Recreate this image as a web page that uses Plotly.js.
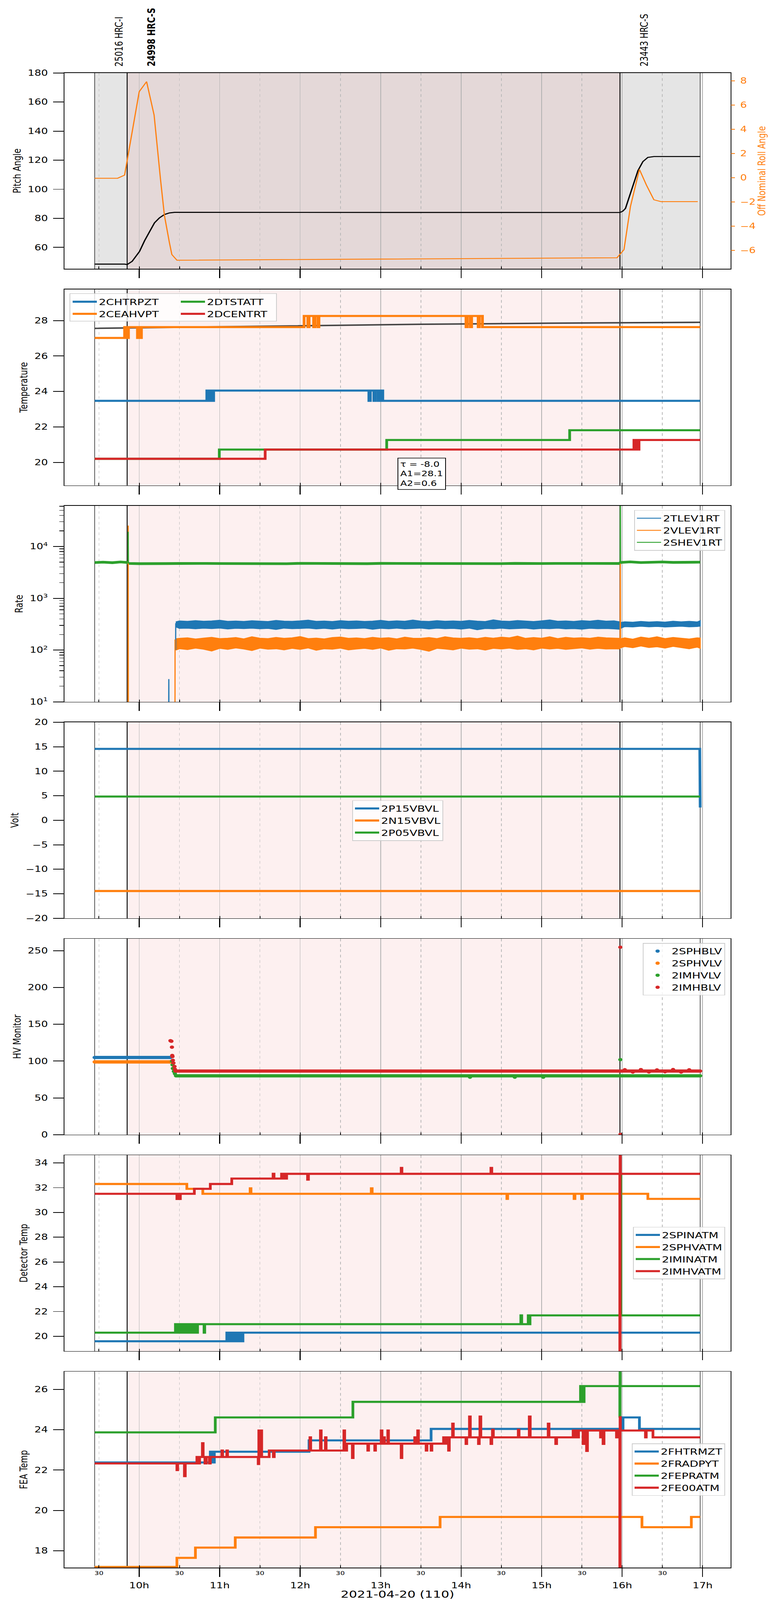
<!DOCTYPE html>
<html><head><meta charset="utf-8">
<script src="https://cdn.plot.ly/plotly-3.0.1.min.js"></script>
<style>html,body{margin:0;padding:0;background:#fff;overflow:hidden} #chart{transform-origin:0 0}</style>
</head><body><div id="chart" style="width:2000px;height:5400px"></div>
<script>
const DAY = '2021-04-20 ';

// ---------------- observations ----------------
const obsLabel = ['25016 HRC-I', '24998 HRC-S', '23443 HRC-S'];
const obsStart = ['09:26:48', '09:51:00', '15:58:24'];
const obsStop  = ['09:51:00', '15:58:24', '16:58:12'];
const obsMain  = [false, true, false];

// ---------------- panel 1 : pitch / roll ----------------
const pitch = [['09:26:48',48.5],['09:49:06',48.5],['09:51:00',48.2],['09:54:42',50.4],['10:00:14',57.2],['10:04:00',64.6],
  ['10:07:42',70.8],['10:11:24',76.9],['10:15:06',80.3],['10:18:48',82.6],['10:22:30',83.7],['10:26:18',84.1],
  ['15:58:24',84.0],['16:00:36',85.0],['16:02:30',86.8],['16:05:06',94.2],['16:08:06',102.9],['16:11:48',112.8],
  ['16:15:30',119.0],['16:19:12',121.9],['16:23:42',122.5],['16:58:12',122.5]];
const roll = [['09:26:48',-0.05],['09:43:54',-0.05],['09:49:06',0.21],['10:00:00',7.1],['10:05:30',7.93],['10:11:06',5.17],
  ['10:15:54',-0.17],['10:18:48',-3.13],['10:22:30',-5.36],['10:24:20',-6.35],['10:28:06',-6.82],['15:56:12',-6.62],
  ['16:01:24',-5.95],['16:06:12',-2.39],['16:12:54',0.68],['16:18:06',-0.61],['16:23:42',-1.83],['16:28:54',-1.98],['16:56:24',-1.98]];

// ---------------- panel 2 : temperature ----------------
const fitCurve = [['09:26:48',27.56],['11:22:00',27.67],['13:30:00',27.79],['15:05:00',27.85],['16:58:12',27.90]];
const fitText = 'τ = -8.0<br>A1=28.1<br>A2=0.6';
const chtrpzt = [['09:26:48',23.47],['10:50:24',24.05],['10:51:40',23.47],['10:53:00',24.05],['10:54:10',23.47],['10:55:30',24.05],
  ['12:51:12',23.47],['12:52:20',24.05],['12:54:54',23.47],['12:55:50',24.05],['12:57:54',23.47],['12:58:50',24.05],
  ['13:00:24',23.47],['13:00:50',24.05],['13:01:36',23.47],['16:58:12',23.47]];
const ceahvpt = [['09:26:48',27.02],['09:49:06',27.63],['09:49:50',27.02],['09:50:40',27.63],['09:51:20',27.02],['09:52:00',27.63],
  ['09:58:40',27.02],['09:59:20',27.63],['10:00:00',27.02],['10:00:50',27.63],['10:01:20',27.02],['10:01:40',27.63],
  ['12:02:54',28.26],['12:05:40',27.63],['12:06:40',28.26],['12:10:00',27.63],['12:11:00',28.26],['12:13:10',27.63],['12:14:00',28.26],
  ['14:03:36',27.63],['14:04:40',28.26],['14:06:50',27.63],['14:07:50',28.26],['14:12:40',27.63],['14:13:40',28.26],['14:15:54',27.63],
  ['16:58:12',27.63]];
const dtstatt = [['09:26:48',20.2],['10:59:42',20.72],['13:04:30',21.26],['15:20:54',21.81],['16:58:12',21.81]];
const dcentrt = [['09:26:48',20.2],['11:33:54',20.72],['16:08:48',21.26],['16:09:30',20.72],['16:10:30',21.26],['16:11:40',20.72],
  ['16:12:36',21.26],['16:58:12',21.26]];

// ---------------- panel 3 : rates ----------------
const bandTime = ['10:27:14','10:30','10:36','10:42','10:48','10:54','11:00','11:06','11:12','11:18',
  '11:24','11:30','11:36','11:42','11:48','11:54','12:00','12:06','12:12','12:18',
  '12:24','12:30','12:36','12:42','12:48','12:54','13:00','13:06','13:12','13:18',
  '13:24','13:30','13:36','13:42','13:48','13:54','14:00','14:06','14:12','14:18',
  '14:24','14:30','14:36','14:42','14:48','14:54','15:00','15:06','15:12','15:18',
  '15:24','15:30','15:36','15:42','15:48','15:54','15:58:00','15:58:40','16:02','16:08',
  '16:14','16:20','16:26','16:32','16:38','16:44','16:50','16:56','16:58:12'];
const tlevUpper = [350,364,358,369,360,365,376,358,363,357, 368,361,356,372,362,358,366,378,359,363,
  356,370,360,365,357,362,374,358,366,360, 379,362,357,369,360,365,358,373,362,356,
  382,363,359,371,362,356,367,380,360,364, 357,370,362,376,361,366,352,340,350,344,
  356,348,354,346,360,350,358,349,368];
const tlevLower = [280,262,265,258,264,260,266,255,263,260, 265,258,262,250,265,259,261,266,257,263,
  254,265,259,261,266,252,263,258,265,257, 261,266,255,264,259,262,254,265,247,261,
  258,264,257,261,265,254,262,259,265,257, 260,253,263,259,261,257,252,262,284,280,
  288,281,286,279,284,289,281,285,290];
const vlevUpper = [165,168,172,163,170,176,166,169,174,164, 180,169,166,175,168,172,182,166,170,164,
  174,178,168,171,166,176,169,173,164,177, 169,168,174,166,180,171,168,173,166,176,
  169,177,172,186,168,174,169,180,166,176, 170,173,168,177,172,169,168,165,172,162,
  178,169,180,166,175,169,163,172,170];
const vlevLower = [100,106,102,109,104,96,108,103,110,105, 98,109,104,106,101,108,103,110,99,106,
  104,109,101,105,108,103,110,99,106,105, 109,103,95,108,105,101,109,104,106,100,
  108,105,109,103,106,101,109,105,108,103, 106,110,104,108,105,106,105,110,117,111,
  120,112,116,109,118,112,106,114,108];
const shevBand = [['09:26:48',4900],['09:33',4980],['09:40',4870],['09:46',5020],['09:50:50',4920],['09:52:00',4700],
  ['10:00',4660],['10:10',4720],['10:20',4680],['10:30',4700],['10:40',4650],['10:50',4710],['11:00',4690],['11:10',4660],
  ['11:20',4720],['11:30',4680],['11:40',4700],['11:50',4650],['12:00',4730],['12:10',4690],['12:20',4670],['12:30',4710],
  ['12:40',4690],['12:50',4660],['13:00',4720],['13:10',4700],['13:20',4680],['13:30',4710],['13:40',4660],['13:50',4700],
  ['14:00',4730],['14:10',4680],['14:20',4700],['14:30',4670],['14:40',4720],['14:50',4650],['15:00',4690],['15:10',4710],
  ['15:20',4680],['15:30',4700],['15:40',4670],['15:50',4720],['15:58:00',4700],['15:59:00',4920],['16:06',5050],['16:14',4900],
  ['16:22',4980],['16:30',5020],['16:38',4930],['16:46',5000],['16:54',4950],['16:58:12',4980]];
const tlevSpikes = [['10:21:54',1],['10:22:04',27.5],['10:22:14',1],[null,null],['10:27:08',100],['10:27:14',330],[null,null],
  ['15:58:30',320],['15:58:38',250],['15:58:46',320]];
const vlevSpikes = [['09:51:40',1],['09:51:48',25400],['09:51:56',1],[null,null],['10:26:38',1],['10:26:44',160],[null,null],
  ['15:58:32',130],['15:58:40',4700],['15:58:48',130]];
const shevSpikes = [['09:51:40',4900],['09:51:48',19300],['09:51:56',4700],[null,null],['15:58:32',4700],['15:58:40',90000],['15:58:48',4900]];

// ---------------- panel 4 : voltages ----------------
const p15vbvl = [['09:26:48',14.56],['16:57:54',14.56],['16:58:12',2.6]];
const n15vbvl = [['09:26:48',-14.44],['16:58:12',-14.44]];
const p05vbvl = [['09:26:48',4.84],['16:58:12',4.84]];

// ---------------- panel 5 : HV monitor ----------------
const sphblv = [['09:26:48',104.9],['10:23:14',104.9]];
const sphvlv = [['09:26:48',98.9],['10:23:14',98.9]];
const imhvlvRun = [['10:27:24',80],['16:58:12',80]];
const imhvlvDots = [['10:24:24',100],['10:24:48',95],['10:25:06',90],['10:25:50',86],['10:26:36',83],['10:27:24',80],
  ['14:06:36',78.2],['14:40:00',78.2],['15:01:12',78.2],['15:58:40',102],['16:58:12',80]];
const imhblvRun = [['10:27:00',86.5],['16:58:12',86.5]];
const imhblvDots = [['10:23:18',127.7],['10:23:36',127.2],['10:24:00',127],['10:24:24',118.9],['10:24:36',107.7],['10:24:48',106.2],
  ['10:25:06',101.1],['10:25:30',97.4],['10:26:18',92.7],['10:26:36',89],['10:27:00',86.5],['15:58:40',254.7],['15:58:46',0.4],
  ['16:02',88.3],['16:08',85],['16:14',88.5],['16:20',85.2],['16:26',88],['16:32',85.5],['16:38',88.6],['16:44',85],['16:50',88.2],['16:58:12',86.5]];

// ---------------- panel 6 : detector temperatures ----------------
const spinatm = [['09:26:48',19.6],['11:05:18',20.29],['11:06:00',19.6],['11:06:50',20.29],['11:07:30',19.6],['11:08:20',20.29],
  ['11:09:00',19.6],['11:09:50',20.29],['11:10:30',19.6],['11:11:20',20.29],['11:12:00',19.6],['11:12:50',20.29],['11:13:30',19.6],
  ['11:14:20',20.29],['11:15:00',19.6],['11:15:50',20.29],['11:16:30',19.6],['11:17:20',20.29],['16:58:12',20.29]];
const sphvatm = [['09:26:48',32.3],['10:35:30',31.91],['10:47:24',31.51],['11:22:42',31.95],['11:23:20',31.51],['12:53:00',31.95],
  ['12:53:40',31.51],['14:34:06',31.1],['14:34:40',31.51],['15:24:12',31.1],['15:24:50',31.51],['15:29:48',31.1],['15:30:26',31.51],
  ['16:19:12',31.1],['16:58:12',31.1]];
const iminatm = [['09:26:48',20.29],['10:27:00',20.98],['10:27:40',20.29],['10:28:30',20.98],['10:29:10',20.29],['10:30:00',20.98],
  ['10:30:40',20.29],['10:31:30',20.98],['10:32:10',20.29],['10:33:00',20.98],['10:33:40',20.29],['10:34:30',20.98],['10:35:10',20.29],
  ['10:36:00',20.98],['10:36:40',20.29],['10:37:30',20.98],['10:38:10',20.29],['10:39:00',20.98],['10:39:40',20.29],['10:40:30',20.98],
  ['10:41:10',20.29],['10:42:00',20.98],['10:42:40',20.29],['10:43:30',20.98],['10:48:20',20.29],['10:48:50',20.98],
  ['14:44:30',21.69],['14:45:10',20.98],['14:50:00',21.69],['14:50:40',20.98],['14:51:20',21.69],['15:58:50',33.0],['15:59:02',21.69],
  ['16:58:12',21.69]];
const imhvatm = [['09:26:48',31.51],['10:28:06',31.09],['10:28:50',31.51],['10:29:40',31.09],['10:30:40',31.51],['10:41:06',31.91],
  ['10:53:00',32.3],['11:09:00',32.74],['11:39:48',33.12],['11:40:30',32.74],['11:46:06',33.12],['11:46:40',32.74],['11:48:00',33.12],
  ['11:48:40',32.74],['11:49:54',33.12],['12:05:30',32.65],['12:06:10',33.12],['13:15:18',33.6],['13:15:50',33.12],['14:22:12',33.6],
  ['14:22:50',33.12],['15:58:18',10],['15:58:30',40],['15:58:42',33.12],['16:58:12',33.12]];

// ---------------- panel 7 : FEA temperatures ----------------
const fhtrmzt = [['09:26:48',22.38],['10:53:00',22.91],['10:54:00',22.38],['10:55:00',22.91],['10:55:40',22.38],['10:56:00',22.91],
  ['12:06:36',23.47],['13:37:36',24.04],['16:00:42',24.61],['16:12:54',24.04],['16:58:12',24.04]];
const fradpyt = [['09:26:48',17.2],['10:28:06',17.65],['10:41:54',18.16],['11:11:36',18.66],['12:11:24',19.17],['13:44:18',19.68],
  ['16:14:48',19.17],['16:51:36',19.68],['16:58:12',19.68]];
const fepratm = [['09:26:48',23.87],['10:56:42',24.61],['12:39:18',25.38],['15:29:00',26.16],['15:29:40',25.38],['15:30:20',26.16],
  ['15:31:00',25.38],['15:31:40',26.16],['15:58:18',24.65],['15:58:26',30],['15:58:34',26.16],['16:58:12',26.16]];
const fe00atm = [['09:26:48',22.33],['10:28:06',22.0],['10:28:40',22.33],['10:33:42',21.7],['10:34:20',22.33],['10:43:00',22.65],
  ['10:43:40',22.33],['10:45:00',22.65],['10:47:06',23.33],['10:47:40',22.65],['10:49:00',22.33],['10:50:00',22.65],['10:52:18',22.33],
  ['10:53:00',22.65],['11:01:36',22.97],['11:02:10',22.65],['11:05:18',22.97],['11:05:50',22.65],['11:28:42',22.3],['11:29:10',23.96],
  ['11:29:48',22.65],['11:30:40',23.96],['11:31:18',22.65],['11:36:54',22.97],['11:40:00',22.65],['11:40:40',22.97],['12:07:18',23.62],
  ['12:07:50',22.97],['12:15:06',23.96],['12:15:40',22.97],['12:18:48',23.62],['12:19:20',22.97],['12:32:36',23.96],['12:33:10',23.31],
  ['12:34:00',22.97],['12:34:40',23.31],['12:38:54',22.6],['12:39:30',23.31],['12:50:24',22.97],['12:51:00',23.31],['12:55:36',22.97],
  ['12:56:10',23.31],['13:00:24',23.96],['13:01:00',23.31],['13:02:18',23.62],['13:02:50',23.31],['13:05:18',23.96],['13:05:50',23.31],
  ['13:15:18',22.6],['13:15:50',23.31],['13:25:24',23.62],['13:26:00',23.31],['13:27:36',23.96],['13:28:10',23.31],['13:33:54',22.97],
  ['13:34:30',23.31],['13:37:36',22.97],['13:38:10',23.31],['13:46:54',23.62],['13:48:00',23.31],['13:49:00',23.62],['13:50:36',22.97],
  ['13:51:10',23.62],['13:53:36',24.3],['13:54:10',23.62],['14:03:36',23.3],['14:04:10',23.62],['14:06:12',24.65],['14:06:50',23.62],
  ['14:12:54',23.3],['14:13:30',23.62],['14:14:00',24.65],['14:14:40',23.62],['14:22:12',23.3],['14:22:50',23.62],['14:23:20',24.0],
  ['14:24:00',23.62],['14:42:36',24.0],['14:43:10',23.62],['14:50:48',24.65],['14:51:30',23.62],['15:04:54',24.3],['15:05:30',23.62],
  ['15:10:30',23.3],['15:11:10',23.62],['15:23:30',23.96],['15:24:30',23.62],['15:25:30',23.96],['15:26:30',23.62],['15:27:30',23.96],
  ['15:30:54',23.3],['15:31:30',23.96],['15:33:30',22.95],['15:34:10',23.96],['15:43:54',23.62],['15:44:30',23.96],['15:45:48',23.3],
  ['15:46:30',23.96],['15:55:48',23.62],['15:56:30',23.96],['15:58:18',10],['15:58:30',24.62],['15:58:42',23.96],['16:17:24',23.62],
  ['16:18:00',23.96],['16:23:00',23.62],['16:58:12',23.62]];

// ---------------- styling / geometry ----------------
const C0 = '#1f77b4', C1 = '#ff7f0e', C2 = '#2ca02c', C3 = '#d62728';
const FONT = 'DejaVu Sans';
const W = 2000, H = 5400, ML = 165, MR = 129;
const panelTop = [246.1, 976.6, 1707.1, 2437.6, 3168.1, 3898.6, 4629.1];
const panelH = 661.5;
const xRange = [DAY + '09:04:15', DAY + '17:20:54'];

// the browser window may be shorter than the 5400 px figure: fit the whole figure into it
const viewH = window.innerHeight || H;
const fitY = Math.min(1, viewH / H);
if (fitY < 1) document.getElementById('chart').style.transform = 'scale(1,' + fitY + ')';

const px = x => (x - ML) / (W - ML - MR);
const py = y => 1 - y / H;
const dom = k => [py(panelTop[k - 1] + panelH), py(panelTop[k - 1])];
const xa = k => (k === 1 ? 'x' : 'x' + k);
const ya = k => (k === 1 ? 'y' : 'y' + k);
const split = pairs => ({ x: pairs.map(p => (p[0] === null ? null : DAY + p[0])), y: pairs.map(p => p[1]) });

function lineTrace(pairs, color, width, k, o = {}) {
  const s = split(pairs);
  const t = {
    type: 'scatter', mode: 'lines', x: s.x, y: s.y, name: o.name || '',
    line: { color: color, width: width, shape: o.shape || 'linear' },
    xaxis: xa(k), yaxis: o.yaxis || ya(k),
    showlegend: !!o.legend, hoverinfo: 'skip', connectgaps: false
  };
  if (o.legend) t.legend = o.legend;
  return t;
}
function dotTrace(pairs, color, size, k, o = {}) {
  const s = split(pairs);
  const t = {
    type: 'scatter', mode: 'markers', x: s.x, y: s.y, name: o.name || '',
    marker: { color: color, size: size, line: { width: 0 } },
    xaxis: xa(k), yaxis: ya(k), showlegend: !!o.legend, hoverinfo: 'skip'
  };
  if (o.legend) t.legend = o.legend;
  return t;
}
function bandTrace(times, upper, lower, color, k) {
  const t = times.map(s => DAY + s);
  return {
    type: 'scatter', mode: 'lines', x: t.concat(t.slice().reverse()), y: upper.concat(lower.slice().reverse()),
    fill: 'toself', fillcolor: color, line: { color: color, width: 3 },
    xaxis: xa(k), yaxis: ya(k), showlegend: false, hoverinfo: 'skip'
  };
}

const data = [
  lineTrace(pitch, 'black', 3.5, 1),
  lineTrace(roll, C1, 3, 1, { yaxis: 'y8' }),
  lineTrace(fitCurve, '#444444', 5, 2),
  lineTrace(chtrpzt, C0, 7, 2, { shape: 'hv', name: '2CHTRPZT', legend: 'legend' }),
  lineTrace(ceahvpt, C1, 7, 2, { shape: 'hv', name: '2CEAHVPT', legend: 'legend' }),
  lineTrace(dtstatt, C2, 7, 2, { shape: 'hv', name: '2DTSTATT', legend: 'legend2' }),
  lineTrace(dcentrt, C3, 7, 2, { shape: 'hv', name: '2DCENTRT', legend: 'legend2' }),
  bandTrace(bandTime, tlevUpper, tlevLower, C0, 3),
  bandTrace(bandTime, vlevUpper, vlevLower, C1, 3),
  lineTrace(shevBand, C2, 9, 3),
  lineTrace(tlevSpikes, C0, 3, 3, { name: '2TLEV1RT', legend: 'legend3' }),
  lineTrace(vlevSpikes, C1, 3, 3, { name: '2VLEV1RT', legend: 'legend3' }),
  lineTrace(shevSpikes, C2, 3, 3, { name: '2SHEV1RT', legend: 'legend3' }),
  lineTrace(p15vbvl, C0, 7, 4, { name: '2P15VBVL', legend: 'legend4' }),
  lineTrace(n15vbvl, C1, 7, 4, { name: '2N15VBVL', legend: 'legend4' }),
  lineTrace(p05vbvl, C2, 7, 4, { name: '2P05VBVL', legend: 'legend4' }),
  lineTrace(sphblv, C0, 11, 5),
  dotTrace(sphblv, C0, 11, 5, { name: '2SPHBLV', legend: 'legend5' }),
  lineTrace(sphvlv, C1, 11, 5),
  dotTrace(sphvlv, C1, 11, 5, { name: '2SPHVLV', legend: 'legend5' }),
  lineTrace(imhvlvRun, C2, 11, 5),
  dotTrace(imhvlvDots, C2, 11, 5, { name: '2IMHVLV', legend: 'legend5' }),
  lineTrace(imhblvRun, C3, 11, 5),
  dotTrace(imhblvDots, C3, 11, 5, { name: '2IMHBLV', legend: 'legend5' }),
  lineTrace(spinatm, C0, 7, 6, { shape: 'hv', name: '2SPINATM', legend: 'legend6' }),
  lineTrace(sphvatm, C1, 7, 6, { shape: 'hv', name: '2SPHVATM', legend: 'legend6' }),
  lineTrace(iminatm, C2, 7, 6, { shape: 'hv', name: '2IMINATM', legend: 'legend6' }),
  lineTrace(imhvatm, C3, 7, 6, { shape: 'hv', name: '2IMHVATM', legend: 'legend6' }),
  lineTrace(fhtrmzt, C0, 7, 7, { shape: 'hv', name: '2FHTRMZT', legend: 'legend7' }),
  lineTrace(fradpyt, C1, 7, 7, { shape: 'hv', name: '2FRADPYT', legend: 'legend7' }),
  lineTrace(fepratm, C2, 7, 7, { shape: 'hv', name: '2FEPRATM', legend: 'legend7' }),
  lineTrace(fe00atm, C3, 7, 7, { shape: 'hv', name: '2FE00ATM', legend: 'legend7' })
];

const layout = {
  width: W, height: H, margin: { l: ML, r: MR, t: 0, b: 0, pad: 0 },
  paper_bgcolor: 'white', plot_bgcolor: 'white',
  font: { family: FONT, size: 27, color: 'black' },
  showlegend: true, hovermode: false
};
function xAxis(k) {
  const a = {
    type: 'date', range: xRange, domain: [0, 1], anchor: ya(k),
    dtick: 3600000, tick0: DAY + '00:00',
    ticks: 'outside', ticklen: 29, tickwidth: 2.5, tickcolor: 'black',
    showgrid: true, gridcolor: '#b0b0b0', gridwidth: 1.5,
    minor: { dtick: 1800000, tick0: DAY + '00:00', ticks: 'inside', ticklen: 8, tickwidth: 2, tickcolor: 'black',
             showgrid: true, gridcolor: '#b8b8b8', gridwidth: 1.5, griddash: 'dash' },
    showline: true, linecolor: 'black', linewidth: 2, mirror: true, zeroline: false,
    showticklabels: false, automargin: false
  };
  if (k === 7) {
    a.showticklabels = true;
    a.tickformat = '%-Hh';
    a.tickfont = { size: 27, color: 'black' };
    a.ticklabelstandoff = 7;
    a.title = { text: '2021-04-20 (110)', font: { size: 33 }, standoff: 6 };
  }
  return a;
}
function yAxis(k, title, extra) {
  return Object.assign({
    domain: dom(k), anchor: xa(k),
    showline: true, linecolor: 'black', linewidth: 2, mirror: true,
    ticks: 'outside', ticklen: 27, tickwidth: 2.5, tickcolor: 'black',
    tickfont: { size: 27, color: 'black' }, ticklabelstandoff: 8,
    showgrid: false, zeroline: false, automargin: false,
    title: { text: title, font: { size: 27 }, standoff: 10 }
  }, extra);
}
for (let k = 1; k <= 7; k++) layout[k === 1 ? 'xaxis' : 'xaxis' + k] = xAxis(k);
layout.yaxis  = yAxis(1, 'Pitch Angle', { range: [45.2, 180], dtick: 20, tick0: 0 });
layout.yaxis2 = yAxis(2, 'Temperature', { range: [18.70, 29.76], dtick: 2, tick0: 0 });
const rateTicks = [10, 100, 1000, 10000];
const rateMinor = [];
[10, 100, 1000, 10000].forEach(d => { for (let m = 2; m <= 9; m++) rateMinor.push(m * d); });
layout.yaxis3 = yAxis(3, 'Rate', {
  type: 'log', range: [1, 4.786], tickmode: 'array', tickvals: rateTicks,
  ticktext: ['10<sup>1</sup>', '10<sup>2</sup>', '10<sup>3</sup>', '10<sup>4</sup>'],
  minor: { tickmode: 'array', tickvals: rateMinor, ticks: 'outside', ticklen: 11, tickwidth: 1.8, tickcolor: 'black', showgrid: false }
});
layout.yaxis4 = yAxis(4, 'Volt', { range: [-20, 20], dtick: 5, tick0: 0 });
layout.yaxis5 = yAxis(5, 'HV Monitor', { range: [0, 266.3], dtick: 50, tick0: 0 });
layout.yaxis6 = yAxis(6, 'Detector Temp', { range: [18.80, 34.63], dtick: 2, tick0: 0 });
layout.yaxis7 = yAxis(7, 'FEA Temp', { range: [17.17, 26.88], dtick: 2, tick0: 0 });
layout.yaxis8 = {
  overlaying: 'y', side: 'right', anchor: 'x', range: [-7.54, 8.65], dtick: 2, tick0: 0,
  ticks: 'outside', ticklen: 10, tickwidth: 2.5, tickcolor: C1, tickfont: { size: 27, color: C1 },
  ticklabelstandoff: 8, showline: false, showgrid: false, zeroline: false, automargin: false,
  title: { text: 'Off Nominal Roll Angle', font: { size: 27, color: C1 }, standoff: 1 }
};

const legBase = { font: { size: 29, family: FONT, color: 'black' }, bgcolor: 'rgba(255,255,255,0.8)', bordercolor: '#cccccc',
  borderwidth: 2, itemwidth: 62, orientation: 'v', traceorder: 'normal' };
layout.legend  = Object.assign({}, legBase, { x: px(181), y: py(993), xanchor: 'left', yanchor: 'top', bgcolor: 'rgba(0,0,0,0)', borderwidth: 0 });
layout.legend2 = Object.assign({}, legBase, { x: px(458), y: py(993), xanchor: 'left', yanchor: 'top', bgcolor: 'rgba(0,0,0,0)', borderwidth: 0 });
layout.legend3 = Object.assign({}, legBase, { x: px(1857), y: py(1721.7), xanchor: 'right', yanchor: 'top' });
layout.legend4 = Object.assign({}, legBase, { x: px(1018.5), y: py(2769.7), xanchor: 'center', yanchor: 'middle' });
layout.legend5 = Object.assign({}, legBase, { x: px(1857), y: py(3182.6), xanchor: 'right', yanchor: 'top' });
layout.legend6 = Object.assign({}, legBase, { x: px(1857), y: py(4229.1), xanchor: 'right', yanchor: 'middle' });
layout.legend7 = Object.assign({}, legBase, { x: px(1857), y: py(4960), xanchor: 'right', yanchor: 'middle' });

const shapes = [];
for (let k = 1; k <= 7; k++) {
  const yref = ya(k) + ' domain';
  obsStart.forEach((s, i) => {
    const fill = k === 1 ? (obsMain[i] ? '#e4d8d8' : '#e5e5e5') : (obsMain[i] ? '#fdf0f0' : null);
    if (fill) shapes.push({ type: 'rect', xref: xa(k), yref: yref, x0: DAY + s, x1: DAY + obsStop[i], y0: 0, y1: 1,
      fillcolor: fill, line: { width: 0 }, layer: 'below' });
  });
  obsStart.forEach((s, i) => {
    [s, obsStop[i]].forEach(t => shapes.push({ type: 'line', xref: xa(k), yref: yref, x0: DAY + t, x1: DAY + t, y0: 0, y1: 1,
      line: { color: 'black', width: obsMain[i] ? 2.2 : 1.3 }, layer: 'below' }));
  });
}
shapes.push({ type: 'rect', xref: 'paper', yref: 'paper', x0: px(179), x1: px(708), y0: py(1084), y1: py(990.7),
  fillcolor: 'rgba(255,255,255,0.8)', line: { color: '#cccccc', width: 2 }, layer: 'above' });
layout.shapes = shapes;

const annotations = obsLabel.map((txt, i) => ({
  text: obsMain[i] ? '<b>' + txt + '</b>' : txt, xref: 'x', yref: 'paper', x: DAY + obsStart[i], y: py(226.7),
  xanchor: 'center', yanchor: 'bottom', xshift: 62, textangle: -90, showarrow: false, font: { size: 27, color: 'black' }
}));
annotations.push({
  text: fitText, xref: 'x2', yref: 'paper', x: DAY + '13:30:30', y: py(1599), xanchor: 'center', yanchor: 'middle',
  align: 'left', showarrow: false, font: { size: 25, color: 'black' }, bgcolor: 'white', bordercolor: 'black',
  borderwidth: 2, borderpad: 5
});
const halfHourTicks = ['09:30', '10:30', '11:30', '12:30', '13:30', '14:30', '15:30', '16:30'];
halfHourTicks.forEach(t => annotations.push({
  text: '30', xref: 'x7', yref: 'paper', x: DAY + t, y: py(5297), xanchor: 'center', yanchor: 'top',
  showarrow: false, font: { size: 18, color: 'black' }
}));
layout.annotations = annotations;

Plotly.newPlot('chart', data, layout, { displayModeBar: false, staticPlot: true });
</script></body></html>
